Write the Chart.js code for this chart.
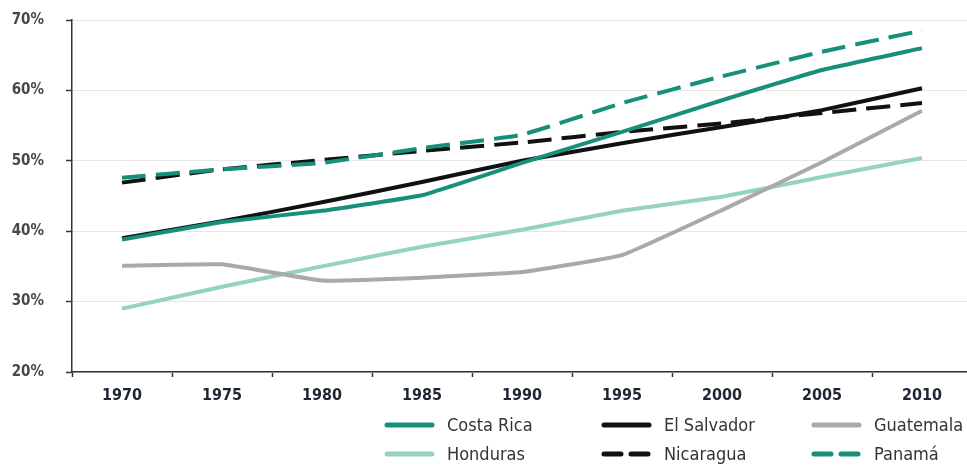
<!DOCTYPE html>
<html>
<head>
<meta charset="utf-8">
<script src="https://cdn.jsdelivr.net/npm/chart.js@4.4.1/dist/chart.umd.min.js"></script>
<style>
  html, body { margin: 0; padding: 0; background: #fff; overflow: hidden; }
  #chart { display: block; }
</style>
</head>
<body>
<canvas id="chart" width="972" height="467"></canvas>
<script>
// Data (share of population, %)
const years = ['1970', '1975', '1980', '1985', '1990', '1995', '2000', '2005', '2010'];
const costaRica = [38.8, 41.3, 42.9, 45.1, 49.7, 54.1, 58.6, 62.9, 66.0];
const elSalvador = [39.0, 41.4, 44.1, 47.0, 50.0, 52.5, 54.8, 57.2, 60.3];
const guatemala = [35.1, 35.3, 33.0, 33.4, 34.2, 36.6, 43.0, 49.8, 57.1];
const honduras = [29.0, 32.1, 35.0, 37.8, 40.2, 42.9, 44.9, 47.7, 50.4];
const nicaragua = [46.9, 48.8, 50.1, 51.4, 52.6, 54.1, 55.3, 56.8, 58.2];
const panama = [47.6, 48.8, 49.7, 51.8, 53.7, 58.2, 62.0, 65.5, 68.5];
const yTicks = [20, 30, 40, 50, 60, 70];

const FONT = "'DejaVu Sans Condensed', 'Liberation Sans Narrow', 'DejaVu Sans', sans-serif";
const TEAL = '#16907a';
const DASH = [24, 10];

function series(label, data, color, dashed) {
    return {
        label: label,
        data: data,
        borderColor: color,
        backgroundColor: color,
        borderWidth: 4,
        borderDash: dashed ? DASH : [],
        pointRadius: 0,
        tension: 0.1,
        fill: false,
    };
}

const datasets = [
    series('Costa Rica', costaRica, TEAL, false),
    series('El Salvador', elSalvador, '#111111', false),
    series('Guatemala', guatemala, '#a9a9a9', false),
    series('Honduras', honduras, '#96d2c4', false),
    series('Nicaragua', nicaragua, '#111111', true),
    series('Panamá', panama, TEAL, true),
];
// Panamá dashes sit on top of Nicaragua
datasets[5].order = -1;

// Legend in a 3 x 2 grid under the plot
const legendGrid = {
    id: 'legendGrid',
    afterDraw(chart) {
        const ctx = chart.ctx;
        const cols = [385, 602, 812];
        const rows = [425, 454];
        ctx.save();
        chart.data.datasets.forEach((ds, i) => {
            const x = cols[i % 3];
            const y = rows[Math.floor(i / 3)];
            ctx.strokeStyle = ds.borderColor;
            ctx.lineWidth = 5;
            ctx.lineCap = 'round';
            ctx.setLineDash(ds.borderDash.length ? [17, 10] : []);
            ctx.beginPath();
            ctx.moveTo(x + 2, y);
            ctx.lineTo(x + 47, y);
            ctx.stroke();
            ctx.setLineDash([]);
            ctx.fillStyle = '#333333';
            ctx.font = '18px ' + FONT;
            ctx.textBaseline = 'middle';
            ctx.textAlign = 'left';
            ctx.fillText(ds.label, x + 62, y + 1);
        });
        ctx.restore();
    }
};

new Chart(document.getElementById('chart'), {
    type: 'line',
    data: { labels: years, datasets: datasets },
    options: {
        responsive: false,
        animation: false,
        layout: { padding: { top: 20, right: 0, bottom: 65, left: 0 } },
        plugins: {
            legend: { display: false },
            tooltip: { enabled: false },
        },
        scales: {
            x: {
                offset: true,
                grid: {
                    offset: true,
                    drawOnChartArea: false,
                    tickLength: 5,
                    tickColor: '#333333',
                    tickWidth: 1.5,
                },
                border: { color: '#333333', width: 1.5 },
                ticks: {
                    color: '#1f2633',
                    padding: 9,
                    font: { family: FONT, size: 16, weight: 'bold' },
                },
                afterFit(scale) { scale.height = 30; },
            },
            y: {
                min: 20,
                max: 70,
                afterBuildTicks(scale) {
                    scale.ticks = yTicks.map(v => ({ value: v }));
                },
                grid: {
                    color: '#e6e6e6',
                    lineWidth: 1,
                    tickLength: 6,
                    tickColor: '#333333',
                    tickWidth: 1.5,
                },
                border: { color: '#333333', width: 1.5 },
                ticks: {
                    color: '#484848',
                    padding: 22,
                    font: { family: FONT, size: 15, weight: 'bold' },
                    callback: v => v + '%',
                },
                afterFit(scale) {
                    // keep the label padding from pushing the plot down
                    scale.width = 72;
                    scale.paddingTop = 0;
                    scale.paddingBottom = 0;
                },
            },
        },
    },
    plugins: [legendGrid],
});
</script>
</body>
</html>
